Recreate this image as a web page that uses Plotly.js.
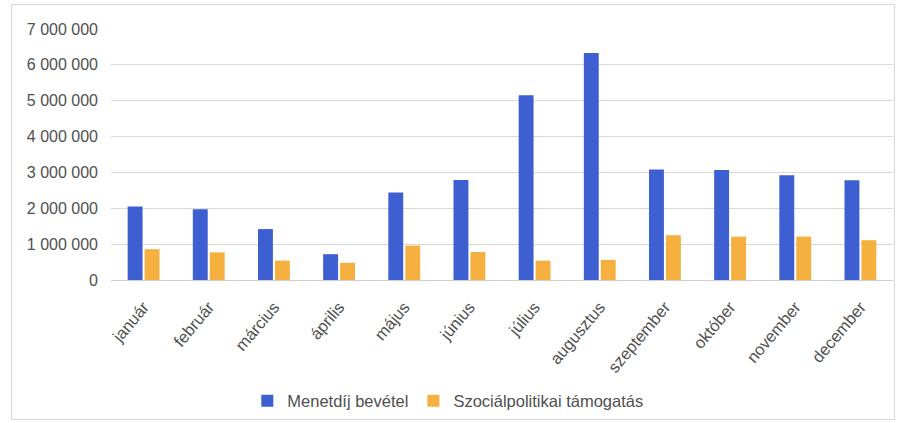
<!DOCTYPE html>
<html><head><meta charset="utf-8">
<script src="https://cdn.plot.ly/plotly-3.0.1.min.js"></script>
<style>
html,body{margin:0;padding:0;background:#fff;}
#frame{position:absolute;left:11px;top:4px;width:884px;height:416px;border:1px solid #d8d8d8;box-sizing:border-box;}
#chart{position:absolute;left:0;top:0;width:901px;height:423px;}
</style></head><body>
<div id="frame"></div>
<div id="chart"></div>
<script>
const months = ["január","február","március","április","május","június","július","augusztus","szeptember","október","november","december"];
const menetdij = [2050000,1970000,1420000,720000,2440000,2790000,5150000,6330000,3080000,3070000,2920000,2780000];
const szocpol = [860000,770000,540000,480000,960000,780000,540000,560000,1250000,1210000,1210000,1110000];
const yTicks = [0,1000000,2000000,3000000,4000000,5000000,6000000,7000000];

const traces = [
  {type:"bar", name:"Menetdíj bevétel", x:months, y:menetdij, marker:{color:"#3d5fd2"}},
  {type:"bar", name:"Szociálpolitikai támogatás", x:months, y:szocpol, marker:{color:"#f6b040"}}
];
const layout = {
  width:901, height:423,
  margin:{l:111, r:8, t:29, b:143},
  paper_bgcolor:"rgba(0,0,0,0)", plot_bgcolor:"rgba(0,0,0,0)",
  separators:", ",
  font:{family:"Liberation Sans, Arial, sans-serif", size:15, color:"#505050"},
  barmode:"group", bargap:0.48, bargroupgap:0.12,
  xaxis:{tickangle:-50, showgrid:false, showline:true, linecolor:"#d0d0d0", ticks:"", ticklabelstandoff:10, tickfont:{size:16.5, color:"#505050"}},
  yaxis:{range:[0,7000000], tickvals:yTicks, tickformat:",d", showgrid:true, gridcolor:"#d9d9d9", zeroline:false, showline:false, ticklabelstandoff:12, tickfont:{size:16, color:"#505050"}},
  showlegend:true,
  legend:{orientation:"h", xref:"container", x:0.497, xanchor:"center", yref:"container", y:(423-401)/423, yanchor:"middle", font:{size:16.5, color:"#505050"}, itemwidth:30, traceorder:"normal"}
};
Plotly.newPlot("chart", traces, layout, {displayModeBar:false, staticPlot:true});
</script>
</body></html>
